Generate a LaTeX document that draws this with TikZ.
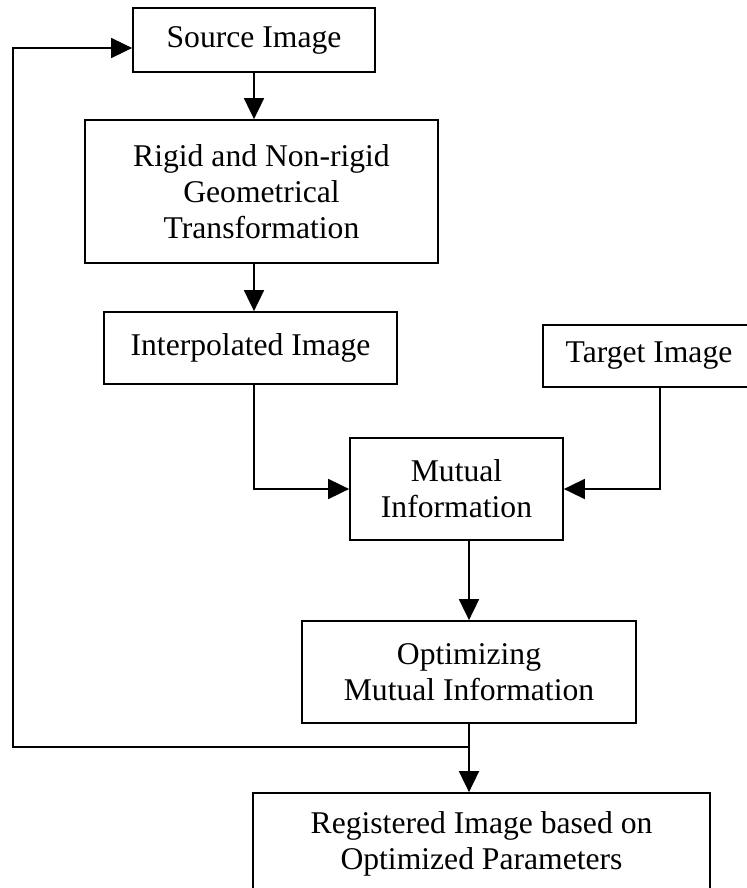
\documentclass[tikz,border=0pt]{standalone}
\usepackage{fontspec}
\setmainfont{Liberation Serif}
\usepackage{tikz}
\usetikzlibrary{arrows.meta, positioning}

\begin{document}
\begin{tikzpicture}[
    block/.style={rectangle, draw, line width=1pt, inner sep=0pt, align=center, font=\fontsize{18}{20.5}\selectfont},
    arrow/.style={-{Triangle[length=4.2mm, width=4mm]}, line width=1pt},
]
\useasboundingbox (0,0) rectangle (14.92,-17.76);

% Main chain
\node[block, minimum width=4.84cm, minimum height=1.28cm] (src) at (5.08, -0.80) {Source Image};
\node[block, minimum width=7.06cm, minimum height=2.86cm] (rigid) at (5.23, -3.83) {Rigid and Non-rigid\\Geometrical\\Transformation};
\node[block, minimum width=5.86cm, minimum height=1.44cm] (interp) at (5.01, -6.96) {Interpolated Image};
\node[block, minimum width=4.24cm, minimum height=1.24cm] (tgt) at (12.98, -7.12) {Target Image};
\node[block, minimum width=4.26cm, minimum height=2.04cm] (mi) at (9.13, -9.78) {Mutual\\Information};
\node[block, minimum width=6.68cm, minimum height=2.04cm] (opt) at (9.38, -13.44) {Optimizing\\Mutual Information};
\node[block, minimum width=9.14cm, minimum height=2.04cm] (reg) at (9.63, -16.88) {Registered Image based on\\Optimized Parameters};

% Feedback corners
\coordinate (fb) at (0.26, -14.94);
\coordinate (top) at (0.26, -0.96);

% Arrows
\draw[arrow] (src.south) -- (src.south |- rigid.north);
\draw[arrow] (src.south |- rigid.south) -- (src.south |- interp.north);
\draw[arrow] (src.south |- interp.south) |- (mi.west);
\draw[arrow] ([xshift=0.22cm]tgt.south) |- (mi.east);
\draw[arrow] (opt.north |- mi.south) -- (opt.north);
\draw[arrow] (opt.south) -- (opt.south |- reg.north);

% Feedback loop
\draw[arrow] (opt.south |- fb) -- (fb) -- (top) -- (src.west |- top);

\end{tikzpicture}
\end{document}
